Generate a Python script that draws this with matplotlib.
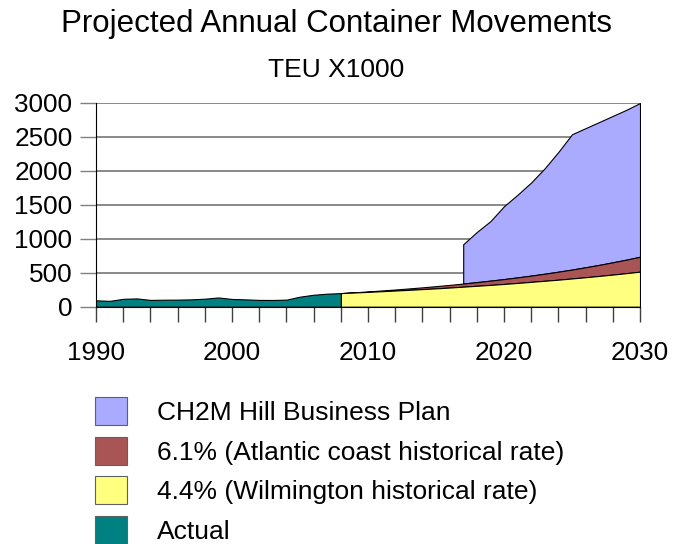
import matplotlib
matplotlib.use("Agg")
import matplotlib.pyplot as plt
from matplotlib.patches import Patch

plt.rcParams['font.family'] = ['Liberation Sans', 'DejaVu Sans']

# Data (TEU x1000)
years_actual = list(range(1990, 2009))
actual = [94, 86, 116, 122, 100, 103, 104, 108, 118, 136, 114, 108, 100, 99, 104, 148, 176, 192, 200]

years_proj = list(range(2008, 2031))
rate_44 = [200, 209, 218, 228, 238, 248, 259, 270, 282, 295, 308, 321, 335, 350, 366, 382, 398, 416, 434, 453, 473, 494, 516]
rate_61 = [200, 212, 225, 239, 253, 269, 285, 303, 321, 341, 362, 384, 407, 432, 458, 486, 516, 547, 581, 616, 654, 693, 736]

years_plan = list(range(2017, 2031))
plan = [920, 1100, 1260, 1480, 1650, 1830, 2040, 2280, 2540, 2630, 2720, 2810, 2900, 3000]

labels = ["CH2M Hill Business Plan", "6.1% (Atlantic coast historical rate)",
          "4.4% (Wilmington historical rate)", "Actual"]
colors = ["#AAAAFF", "#AA5555", "#FFFF80", "#008080"]

title = "Projected Annual Container Movements"
subtitle = "TEU X1000"

fig = plt.figure(figsize=(6.73, 5.44), dpi=100)
ax = fig.add_axes([96/673, 237.3/544, 544/673, 203.7/544])

edge = dict(edgecolor="black", linewidth=0.8)
plan_base = rate_61[years_proj.index(2017):]
ax.fill_between(years_plan, plan_base, plan, facecolor=colors[0], zorder=3, **edge)
ax.fill_between(years_proj, rate_44, rate_61, facecolor=colors[1], zorder=3, **edge)
ax.fill_between(years_proj, 0, rate_44, facecolor=colors[2], zorder=3, **edge)
ax.fill_between(years_actual, 0, actual, facecolor=colors[3], zorder=3, **edge)

ax.set_xlim(1990, 2030)
ax.set_ylim(0, 3000)
ax.set_yticks(range(0, 3001, 500))
ax.set_xticks(range(1990, 2031, 10))
ax.set_xticks(range(1990, 2031, 2), minor=True)
ax.yaxis.grid(True, color="#808080", linewidth=1.3, zorder=1)
ax.set_axisbelow(True)
for s in ["top", "right"]:
    ax.spines[s].set_visible(False)
ax.spines["left"].set_color("black")
ax.spines["bottom"].set_color("black")
ax.spines["left"].set_zorder(4)
ax.spines["bottom"].set_zorder(4)

ax.tick_params(axis="y", length=11.5, width=1.0, color="#808080", pad=5.5, labelsize=18.8)
ax.tick_params(axis="x", which="both", length=10.8, width=1.0, color="#404040", labelsize=18.8, pad=14)

fig.text(0.5, 1 - 24/544, title, ha="center", va="center", fontsize=22.5)
fig.text(0.5, 1 - 70/544, subtitle, ha="center", va="center", fontsize=19)

handles = [Patch(facecolor=c, edgecolor="#606060", linewidth=0.8) for c in colors]
fig.legend(handles, labels, loc="upper left", bbox_to_anchor=(95/673, 1 - 397/544),
           bbox_transform=fig.transFigure, frameon=False, fontsize=19,
           handlelength=1.22, handleheight=1.26, handletextpad=1.12,
           labelspacing=0.44, borderpad=0, borderaxespad=0)

fig.savefig("out.png", dpi=100)
